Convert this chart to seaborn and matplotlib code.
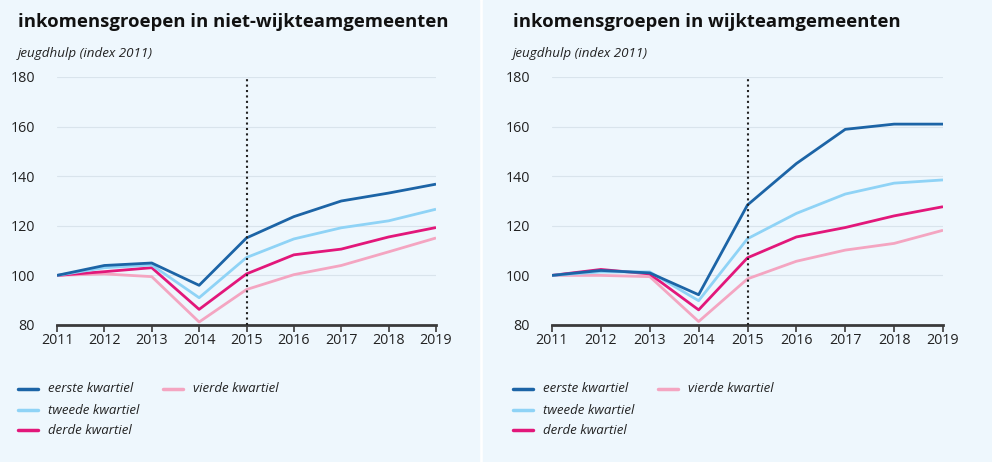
import matplotlib
matplotlib.use("Agg")
import matplotlib.pyplot as plt
import seaborn as sns
import pandas as pd
from matplotlib.lines import Line2D

years = [2011, 2012, 2013, 2014, 2015, 2016, 2017, 2018, 2019]
series_names = ["eerste kwartiel", "tweede kwartiel", "derde kwartiel", "vierde kwartiel"]

# niet-wijkteamgemeenten
niet_eerste = [100, 104.0, 105.0, 96.0, 115.1, 123.7, 130.0, 133.2, 136.8]
niet_tweede = [100, 103.1, 104.2, 91.0, 107.2, 114.7, 119.2, 122.0, 126.7]
niet_derde = [100, 101.5, 103.1, 86.3, 100.6, 108.3, 110.6, 115.5, 119.3]
niet_vierde = [100, 100.6, 99.5, 81.2, 94.3, 100.3, 104.0, 109.5, 115.1]

# wijkteamgemeenten
wijk_eerste = [100, 102.0, 101.0, 92.2, 128.4, 145.1, 158.9, 161.0, 161.0]
wijk_tweede = [100, 101.4, 101.4, 89.8, 114.8, 125.0, 132.8, 137.2, 138.5]
wijk_derde = [100, 102.4, 100.6, 86.1, 107.1, 115.5, 119.3, 124.0, 127.7]
wijk_vierde = [100, 100.0, 99.5, 81.4, 98.6, 105.7, 110.2, 112.9, 118.2]

titles = ["inkomensgroepen in niet-wijkteamgemeenten", "inkomensgroepen in wijkteamgemeenten"]
subtitle = "jeugdhulp (index 2011)"
yticks = [80, 100, 120, 140, 160, 180]
marker_year = 2015

colors = ["#1c64a6", "#8fd3f6", "#e2177a", "#f4a5c1"]
BG = "#eef7fd"

def make_df(vals):
    rows = []
    for name, v in zip(series_names, vals):
        for y, val in zip(years, v):
            rows.append({"jaar": y, "index": val, "groep": name})
    return pd.DataFrame(rows)

dfs = [make_df([niet_eerste, niet_tweede, niet_derde, niet_vierde]),
       make_df([wijk_eerste, wijk_tweede, wijk_derde, wijk_vierde])]

sns.set_theme(style="white")
plt.rcParams["font.family"] = ["Open Sans", "DejaVu Sans"]

W, H = 992, 462
fig = plt.figure(figsize=(W / 100, H / 100), dpi=100)
fig.patch.set_facecolor("white")

# panel backgrounds
fig.add_artist(plt.Rectangle((0, 0), 479 / W, 1, transform=fig.transFigure, color=BG, zorder=-10))
fig.add_artist(plt.Rectangle((483 / W, 0), 1 - 483 / W, 1, transform=fig.transFigure, color=BG, zorder=-10))

panels = [dict(x0=57, x1=436, tx=18), dict(x0=552, x1=943, tx=513)]
y_top, y_bot = 77, 325

palette = dict(zip(series_names, colors))

for i, (p, df) in enumerate(zip(panels, dfs)):
    ax = fig.add_axes([p["x0"] / W, (H - y_bot) / H, (p["x1"] - p["x0"]) / W, (y_bot - y_top) / H])
    ax.set_facecolor(BG)
    ax.patch.set_alpha(0)
    sns.lineplot(data=df, x="jaar", y="index", hue="groep", palette=palette,
                 hue_order=series_names[::-1], linewidth=2.0, legend=False, ax=ax,
                 solid_capstyle="butt")
    ax.set_xlim(years[0], years[-1])
    ax.set_ylim(80, 180)
    ax.set_yticks(yticks)
    ax.set_xticks(years)
    ax.set_xticklabels([str(y) for y in years])
    ax.set_xlabel("")
    ax.set_ylabel("")
    for s in ["top", "right", "left"]:
        ax.spines[s].set_visible(False)
    ax.spines["bottom"].set_color("#3a3a3a")
    ax.spines["bottom"].set_linewidth(2.0)
    ax.grid(axis="y", color="#d9e4ec", linewidth=0.8)
    ax.grid(axis="x", visible=False)
    ax.set_axisbelow(True)
    ax.tick_params(axis="x", bottom=True, length=5, width=1.2, color="#3a3a3a",
                   labelsize=10.3, labelcolor="#222222", pad=1)
    ax.tick_params(axis="y", left=False, labelsize=10.3, labelcolor="#222222", pad=10)
    ax.axvline(marker_year, ymin=0, ymax=0.99, color="#222222", linestyle=(0, (1.0, 1.6)),
               linewidth=1.5, zorder=5)

    fig.text(p["tx"] / W, 1 - 22 / H, titles[i], fontsize=13.3, fontweight="bold",
             color="#111111", va="center", ha="left")
    fig.text(p["tx"] / W, 1 - 54 / H, subtitle, fontsize=9.6, style="italic",
             color="#222222", va="center", ha="left")

    lx = p["tx"]
    entries = [(0, lx, 389), (1, lx, 410), (2, lx, 430), (3, lx + 145, 389)]
    for k, x, y in entries:
        fig.add_artist(Line2D([x / W, (x + 20) / W], [1 - y / H, 1 - y / H],
                              transform=fig.transFigure, color=colors[k], lw=2.5))
        fig.text((x + 30) / W, 1 - y / H, series_names[k], fontsize=9.5, style="italic",
                 color="#222222", va="center", ha="left")

fig.savefig("out.png", dpi=100, facecolor="white")
